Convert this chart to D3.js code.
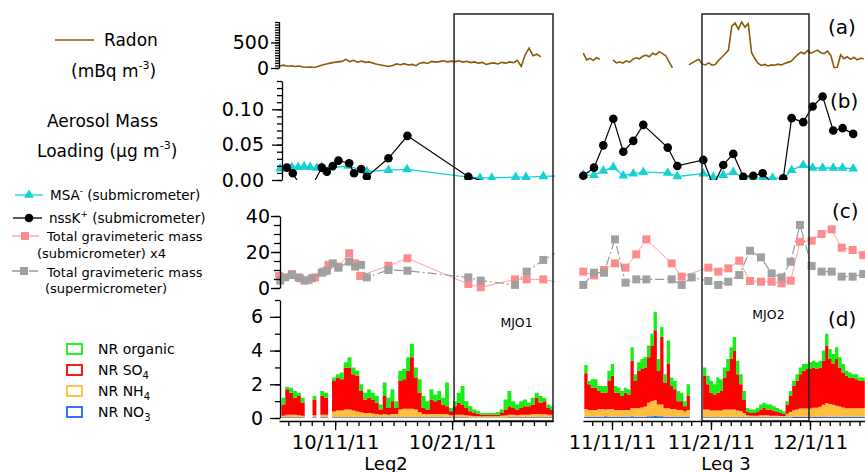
<!DOCTYPE html>
<html>
<head>
<meta charset="utf-8">
<script src="https://cdn.jsdelivr.net/npm/d3@7"></script>
<style>
  body { margin: 0; background: #fff; }
  svg { font-family: "DejaVu Sans", sans-serif; }
</style>
</head>
<body>
<div id="chart"></div>
<script>
// ---------------- data ----------------
// x values are day of month; Leg 3 keeps counting past 30 Nov (31 = 1 Dec)
var leg2Ticks = ['10/11/11', '10/21/11'];
var leg3Ticks = ['11/11/11', '11/21/11', '12/1/11'];
var leg2Span = [6.2, 29.63];
var leg3Span = [8.07, 36.56];
var mjoNames = ['MJO1', 'MJO2'];
var mjoLeg2 = [21.17, 29.63];
var mjoLeg3 = [20.09, 30.9];

var radonTicks = [0, 500];
var aerosolTicks = [0, 0.05, 0.10];
var massTicks = [0, 20, 40];
var amsTicks = [0, 2, 4, 6];

// radon (mBq m-3), one reading every 8 h
var radonStep = 1 / 3;
var radonStart2 = 6.25, radonStart3 = 8.1;
var radon2 = [40, 55, 35, 45, 30, 40, 20, 15, 20, 10, 35, 60,
  80, 95, 110, 120, 130, 170, 125, 150, 115, 135, 110, 120,
  95, 75, 60, 45, 30, 50, 80, 65, 85, 60, 70, 45,
  95, 110, 90, 130, 115, 125, 140, 120, 135, 125, 140, 115,
  130, 105, 120, 95, 110, 70, 90, 100, 80, 110, 95, 120,
  105, 150, 30, 260, 390, 240, 270, 220];
var radon3 = [290, 160, 190, 150, 200, 170,
  null, null, null, 160, 100, 120,
  95, 140, 115, 170, 200, 180,
  230, 250, 220, 290, 260, 320,
  280, 240, 120, 5, null, null,
  null, null, 60, 100, 140, 170,
  80, 60, 100, 55, 70, 150,
  210, 280, 350, 820, 880, 760,
  900, 800, 870, 300, 180, 90,
  50, 70, 40, 60, 55, 75,
  60, 90, 110, 130, 200, 260,
  310, 280, 340, 290, 320, 350,
  300, 280, 330, 250, 10, 15,
  260, 180, 220, 170, 210, 160,
  190, 180];

// filter samples [day, value]
var msa2 = [[6.30, .016], [7.30, .018], [7.84, .018], [8.35, .019], [8.86, .018], [9.44, .017],
  [9.86, .018], [10.57, .017], [12.11, .020], [13.71, .012], [15.56, .014], [17.15, .015],
  [22.39, .004], [23.39, .003], [24.39, .003], [26.44, .004], [27.32, .004], [28.80, .005], [30.3, .006]];
var nssk2 = [[6.87, .0175], [7.38, .0095], [8.55, -.023], [9.86, .0175], [10.29, .0118], [10.80, .0199],
  [11.28, .0274], [12.20, .0237], [12.62, .0095], [13.22, .0156], [13.71, .0047], [15.56, .0307],
  [17.18, .0624], [22.39, .0047], [25.4, -.01]];
var msa3 = [[8.10, .007], [9.18, .007], [10.12, .013], [11.13, .018], [12.14, .006], [13.15, .009],
  [14.16, .011], [16.63, .010], [17.60, .005], [20.22, .009], [21.23, .004], [22.24, .007],
  [23.25, .011], [24.26, .003], [25.27, .003], [26.22, .003], [27.23, .003], [28.30, .002],
  [29.15, .014], [30.32, .021], [31.27, .017], [32.28, .017], [33.35, .017], [34.30, .017], [35.37, .016]];
var nssk3 = [[8.10, .0061], [9.18, .0175], [10.12, .049], [11.13, .0865], [12.14, .040], [13.15, .0553],
  [14.16, .078], [16.63, .0458], [17.60, .0199], [20.22, .0284], [21.23, -.008], [22.24, .0213],
  [23.25, .0369], [24.26, .0047], [25.27, .0061], [26.22, .0095], [27.23, -.006], [28.30, .0024],
  [29.15, .0875], [30.32, .0818], [31.27, .104], [32.28, .118], [33.35, .070], [34.30, .0733], [35.37, .0652]];

// total gravimetric mass: submicrometer (x4) and supermicrometer
var subMass2 = [[6.21, 6.7], [7.30, 7.8], [8.01, 5.4], [8.72, 4.4], [9.29, 5.9], [10.0, 9.1], [10.43, 12.8],
  [11.28, 11.9], [12.20, 19.3], [12.71, 13.7], [13.14, 6.7], [15.56, 12.4], [17.18, 16.5], [22.39, 2.2],
  [23.45, 0.4], [26.38, 4.8], [27.38, 4.8], [28.80, 4.8], [30.3, 2.8]];
var superMass2 = [[6.30, 4.1], [6.73, 5.9], [7.30, 7.2], [7.86, 5.9], [8.38, 4.1], [9.01, 5.4], [9.86, 8.5],
  [10.29, 9.6], [10.80, 13.7], [11.28, 11.3], [12.20, 14.6], [12.71, 11.9], [13.22, 12.8], [13.71, 5.9],
  [15.56, 10.0], [17.18, 9.6], [22.39, 5.9], [23.45, 4.1], [26.38, 1.7], [27.38, 9.1], [28.80, 15.6], [30.3, 21.0]];
var subMass3 = [[8.10, 9.1], [9.18, 7.0], [10.19, 10.0], [11.30, 13.7], [12.36, 11.3], [13.45, 18.7],
  [14.47, 27.0], [17.03, 13.7], [18.04, 6.3], [20.73, 11.3], [21.74, 9.1], [22.75, 10.9], [23.86, 15.2],
  [24.94, 3.9], [26.05, 3.5], [27.13, 3.5], [28.14, 2.6], [29.05, 4.1], [29.99, 25.7], [31.17, 26.3],
  [32.18, 30.0], [33.19, 32.6], [34.20, 22.4], [35.31, 21.1], [36.38, 18.3]];
var superMass3 = [[8.10, 1.7], [9.18, 8.5], [10.19, 8.5], [11.30, 27.0], [12.36, 3.0], [13.45, 4.8],
  [14.47, 4.8], [17.03, 4.8], [18.04, 1.7], [19.05, 5.9], [20.73, 3.9], [21.74, 1.7], [22.75, 3.5],
  [23.86, 7.2], [24.94, 20.7], [26.05, 17.0], [27.13, 8.1], [28.14, 5.9], [29.05, 14.6], [29.99, 35.0],
  [31.17, 12.2], [32.18, 9.1], [33.19, 9.1], [34.20, 6.3], [35.31, 6.3], [36.38, 7.8]];

// NR aerosol components (ug m-3), 8 h averages
var amsStep = 1 / 3;
var amsStart2 = 6.4, amsStart3 = 8.2;
var org2 = [.40, .15, .30, .40, .20, .30, null, null, .20, null,
  .30, .30, null, .20, .20, .40, .30, .60, .40, .30,
  .40, .40, .50, .40, .40, .30, .80, .60, .70, .40,
  .60, .60, .80, .80, .60, .80, .70, .50, .60, .40,
  .50, .40, 1.40, .20, .30, .60, 1.10, .40, .30, .20,
  .15, .10, .10, .10, .10, .15, .20, .60, .90, .40,
  .30, .40, .40, .20, .40, .30, .40, .20, .20, .20];
var so4_2 = [.66, 1.51, 1.31, 1.01, 1.14, .76, null, null, .94, null,
  1.11, 1.01, null, 1.81, 1.96, 1.86, 2.50, 2.50, 2.15, 2.11,
  1.26, .81, .91, .84, .66, .31, 1.06, .41, .76, .36,
  1.70, 1.75, 2.25, 3.05, 1.90, 1.16, .36, .28, .86, .76,
  .86, .58, .48, .24, .51, .71, .61, .44, .27, .19,
  .14, .10, .10, .10, .10, .10, .17, .35, .51, .41,
  .34, .41, .51, .51, .58, .96, .68, .78, .41, .31];
var nh4_2 = [.10, .15, .15, .15, .12, .10, null, null, .12, null,
  .15, .15, null, .35, .40, .40, .45, .45, .40, .35,
  .30, .25, .25, .22, .20, .15, .20, .15, .20, .20,
  .45, .50, .50, .50, .45, .30, .20, .18, .20, .20,
  .20, .18, .18, .12, .15, .15, .15, .12, .10, .08,
  .08, .07, .07, .07, .07, .07, .10, .12, .15, .15,
  .12, .15, .15, .15, .18, .20, .18, .18, .15, .15];
var no3_2 = [.04, .04, .04, .04, .04, .04, null, null, .04, null,
  .04, .04, null, .04, .04, .04, .05, .05, .05, .04,
  .04, .04, .04, .04, .04, .04, .04, .04, .04, .04,
  .05, .05, .05, .05, .05, .04, .04, .04, .04, .04,
  .04, .04, .04, .04, .04, .04, .04, .04, .03, .03,
  .03, .03, .03, .03, .03, .03, .03, .03, .04, .04,
  .04, .04, .04, .04, .04, .04, .04, .04, .04, .04];
var org3 = [.50, .20, .50, .50, .30, .40, .40, .60, .70, .40,
  .30, .30, .30, .30, .80, .40, .50, .60, .60, .70,
  .70, 1.10, .70, .60, .50, 1.40, .50, .50, .60, .50,
  .30, .70, null, null, null, null, .50, .50, .70, .60,
  .90, .70, .60, .70, .70, .80, .80, .60, .50, .25,
  .20, .20, .25, .30, .30, .30, .30, .25, .25, .20,
  .15, .20, .30, .30, .40, .40, .40, .30, .40, .40,
  .40, .40, .60, .70, .60, .60, .70, .60, .50, .30,
  .30, .20, .30, .20, .20];
var so4_3 = [2.12, 1.52, 1.32, 1.32, 1.07, .97, 1.00, 1.67, 1.97, 1.02,
  1.02, .82, 1.02, .92, 2.80, 1.62, 2.22, 2.27, 2.32, 2.70,
  3.30, 4.15, 2.00, 4.00, 1.52, 2.62, 1.37, 1.17, .52, .52,
  .32, .82, null, null, null, null, 2.00, 1.50, 1.05, .95,
  1.05, 1.15, 1.90, 2.30, 3.00, 3.50, 2.15, 1.60, .80, .19,
  .16, .16, .21, .34, .44, .34, .36, .31, .21, .18,
  .13, .55, .95, 1.44, 1.69, 2.04, 2.24, 2.34, 2.34, 2.39,
  2.29, 2.34, 2.62, 3.42, 2.67, 2.42, 2.77, 2.32, 2.07, 1.92,
  1.82, 1.82, 1.72, 1.62, 1.62];
var nh4_3 = [.45, .40, .40, .40, .45, .45, .40, .45, .45, .40,
  .40, .40, .40, .40, .50, .50, .50, .55, .60, .80,
  .90, .90, .70, .70, .50, .50, .45, .45, .40, .40,
  .30, .40, null, null, null, null, .45, .45, .40, .40,
  .40, .40, .45, .45, .45, .45, .40, .35, .25, .12,
  .10, .10, .10, .12, .12, .12, .10, .10, .10, .08,
  .08, .20, .30, .40, .45, .50, .50, .50, .50, .55,
  .55, .60, .70, .80, .75, .70, .65, .60, .55, .50,
  .50, .50, .50, .50, .50];
var no3_3 = [.08, .08, .08, .08, .08, .08, .10, .08, .08, .08,
  .08, .08, .08, .08, .10, .08, .08, .08, .08, .10,
  .10, .15, .10, .10, .08, .08, .08, .08, .08, .08,
  .08, .08, null, null, null, null, .05, .05, .05, .05,
  .05, .05, .05, .05, .05, .05, .05, .05, .05, .04,
  .04, .04, .04, .04, .04, .04, .04, .04, .04, .04,
  .04, .05, .05, .06, .06, .06, .06, .06, .06, .06,
  .06, .06, .08, .08, .08, .08, .08, .08, .08, .08,
  .08, .08, .08, .08, .08];

// ---------------- chart ----------------
var W = 865, H = 472;
var svg = d3.select('#chart').append('svg').attr('width', W).attr('height', H);

var colors = { radon: '#8c5a08', msa: '#14d2d2', nssk: '#000', sub: '#ff8c8c', sup: '#a0a0a0',
  org: '#14f014', so4: '#ff0000', nh4: '#ffbe3c', no3: '#1e64ff' };

function octDay(d) { return new Date(Date.UTC(2011, 9, 1) + (d - 1) * 864e5); }
function novDay(d) { return new Date(Date.UTC(2011, 10, 1) + (d - 1) * 864e5); }
var parseTick = d3.utcParse('%m/%d/%y');
var fmtTick = d3.utcFormat('%-m/%-d/%y');

// y scales (one per panel)
var yA = d3.scaleLinear().domain([0, 910]).range([68, 21.5]);
var yB = d3.scaleLinear().domain([0, 0.14]).range([180, 81]);
var yC = d3.scaleLinear().domain([0, 40]).range([288, 216]);
var yD = d3.scaleLinear().domain([0, 7]).range([418, 300]);

var legs = [
  { id: 'l2', toDate: octDay, span: leg2Span, range: [279, 553], clip: [270, 555], ticks: leg2Ticks,
    name: 'Leg2', nameX: 386, radonStart: radonStart2, radon: radon2, msa: msa2, nssk: nssk2,
    sub: subMass2, sup: superMass2, amsStart: amsStart2, org: org2, so4: so4_2, nh4: nh4_2, no3: no3_2,
    mjo: mjoLeg2, mjoName: mjoNames[0], mjoY: 327 },
  { id: 'l3', toDate: novDay, span: leg3Span, range: [583, 865], clip: [576, 865], ticks: leg3Ticks,
    name: 'Leg 3', nameX: 726, radonStart: radonStart3, radon: radon3, msa: msa3, nssk: nssk3,
    sub: subMass3, sup: superMass3, amsStart: amsStart3, org: org3, so4: so4_3, nh4: nh4_3, no3: no3_3,
    mjo: mjoLeg3, mjoName: mjoNames[1], mjoY: 319 }
];

var defs = svg.append('defs');
function addClip(id, x0, x1, y0, y1) {
  defs.append('clipPath').attr('id', id).append('rect')
    .attr('x', x0).attr('y', y0).attr('width', x1 - x0).attr('height', y1 - y0);
  return 'url(#' + id + ')';
}

function drawMarkers(g, x, y, toDate, pts, color, lineColor, lw, dash, symbol, size) {
  var line = d3.line().x(d => x(toDate(d[0]))).y(d => y(d[1]));
  g.append('path').datum(pts).attr('d', line)
    .attr('fill', 'none').attr('stroke', lineColor).attr('stroke-width', lw)
    .attr('stroke-dasharray', dash);
  g.selectAll(null).data(pts).enter().append('path')
    .attr('transform', d => 'translate(' + x(toDate(d[0])) + ',' + y(d[1]) + ')')
    .attr('d', d3.symbol(symbol, size))
    .attr('fill', color);
}

legs.forEach(function (leg) {
  var x = d3.scaleUtc().domain(leg.span.map(leg.toDate)).range(leg.range);
  var T = leg.toDate;

  // (d) stacked NR components
  var keys = ['no3', 'nh4', 'so4', 'org'];
  var rows = leg.org.map((v, i) => ({ day: leg.amsStart + i * amsStep,
    no3: leg.no3[i], nh4: leg.nh4[i], so4: leg.so4[i], org: v }));
  var stacked = d3.stack().keys(keys).value((d, k) => d[k] || 0)(rows);
  var gD = svg.append('g').attr('clip-path', addClip('d' + leg.id, leg.range[0], leg.range[1], 290, 418));
  var area = d3.area().defined(p => p)
    .x(p => x(T(p.day))).y0(p => yD(p.y0)).y1(p => yD(p.y1));
  stacked.forEach(function (layer) {
    var pts = [];
    layer.forEach(function (s, i) {
      if (rows[i].org == null) { pts.push(null); return; }
      pts.push({ day: rows[i].day, y0: s[0], y1: s[1] },
               { day: rows[i].day + amsStep, y0: s[0], y1: s[1] });
    });
    gD.append('path').attr('d', area(pts)).attr('fill', colors[layer.key]);
  });

  // (a) radon
  var radonLine = d3.line().defined(d => d.v != null)
    .x(d => x(T(d.day))).y(d => yA(d.v));
  svg.append('path')
    .datum(leg.radon.map((v, i) => ({ day: leg.radonStart + i * radonStep, v: v })))
    .attr('d', radonLine).attr('fill', 'none')
    .attr('stroke', colors.radon).attr('stroke-width', 1.6);

  // (b) MSA and nssK
  var gB = svg.append('g').attr('clip-path', addClip('b' + leg.id, leg.clip[0], leg.clip[1], 75, 180));
  drawMarkers(gB, x, yB, T, leg.msa, colors.msa, colors.msa, 1.3, null, d3.symbolTriangle, 42);
  drawMarkers(gB, x, yB, T, leg.nssk, colors.nssk, colors.nssk, 1.2, null, d3.symbolCircle, 58);

  // (c) gravimetric mass
  var gC = svg.append('g').attr('clip-path', addClip('c' + leg.id, leg.clip[0], leg.clip[1], 205, 296));
  drawMarkers(gC, x, yC, T, leg.sub, colors.sub, '#ffa0a0', 1, null, d3.symbolSquare, 64);
  drawMarkers(gC, x, yC, T, leg.sup, colors.sup, '#9a9a9a', 1.2, '9,3,2,3', d3.symbolSquare, 64);

  // MJO box
  var bx0 = x(T(leg.mjo[0])), bx1 = x(T(leg.mjo[1]));
  svg.append('rect').attr('x', bx0).attr('y', 14).attr('width', bx1 - bx0).attr('height', 421 - 14)
    .attr('fill', 'none').attr('stroke', '#222').attr('stroke-width', 1.5);
  svg.append('text').attr('x', (bx0 + bx1) / 2 + 13).attr('y', leg.mjoY)
    .attr('text-anchor', 'middle').attr('font-size', 12.5).text(leg.mjoName);

  // x axis
  var gx = svg.append('g').attr('transform', 'translate(0,421)');
  gx.call(d3.axisBottom(x).ticks(d3.utcDay.every(1)).tickSize(5).tickFormat('').tickSizeOuter(0));
  var gxm = gx.append('g').call(d3.axisBottom(x).tickValues(leg.ticks.map(parseTick))
    .tickSize(9).tickPadding(5).tickFormat(fmtTick));
  gxm.select('.domain').remove();
  gx.selectAll('line, path').attr('stroke-width', 1.3);
  gx.selectAll('text').attr('font-size', 19.5).attr('font-family', '"DejaVu Sans", sans-serif');

  svg.append('text').attr('x', leg.nameX).attr('y', 469.5).attr('text-anchor', 'middle')
    .attr('font-size', 18).text(leg.name);
});

// y axes on the left of Leg2
function yAxis(scale, ax, majors, fmt, minors, majLen, minLen, pad) {
  var g = svg.append('g').attr('transform', 'translate(' + ax + ',0)');
  g.call(d3.axisLeft(scale).tickValues(minors).tickSize(minLen).tickFormat('').tickSizeOuter(0));
  var gm = g.append('g').call(d3.axisLeft(scale).tickValues(majors).tickSize(majLen)
    .tickPadding(pad).tickFormat(fmt));
  gm.select('.domain').remove();
  g.selectAll('line, path').attr('stroke-width', 1.3);
  g.selectAll('text').attr('font-size', 19).attr('font-family', '"DejaVu Sans", sans-serif');
}
yAxis(yA, 279, radonTicks, d3.format('d'), d3.range(0, 901, 50), 8, 4, 2);
yAxis(yB, 282, aerosolTicks, d3.format('.2f'), d3.range(0, 0.1401, 0.01), 10, 5, 8);
yAxis(yC, 280, massTicks, d3.format('d'), d3.range(0, 41, 5), 9, 6, 1);
yAxis(yD, 280, amsTicks, d3.format('d'), d3.range(0, 8, 1), 10, 5, 7);

// panel letters
[['(a)', 828, 34], ['(b)', 830, 108], ['(c)', 832, 218], ['(d)', 828, 326]].forEach(function (p) {
  svg.append('text').attr('x', p[1]).attr('y', p[2]).attr('font-size', 20).text(p[0]);
});

// ---------------- left-hand legend ----------------
var lg = svg.append('g');
lg.append('line').attr('x1', 55).attr('x2', 94).attr('y1', 40).attr('y2', 40)
  .attr('stroke', colors.radon).attr('stroke-width', 1.5);
lg.append('text').attr('x', 104).attr('y', 46).attr('font-size', 17).text('Radon');
var t1 = lg.append('text').attr('x', 71).attr('y', 77).attr('font-size', 17);
t1.append('tspan').text('(mBq m');
t1.append('tspan').attr('font-size', 11).attr('dy', -8).text('-3');
t1.append('tspan').attr('dy', 8).text(')');

lg.append('text').attr('x', 47).attr('y', 127).attr('font-size', 17).text('Aerosol Mass');
var t2 = lg.append('text').attr('x', 37).attr('y', 157).attr('font-size', 17);
t2.append('tspan').text('Loading (\u03bcg m');
t2.append('tspan').attr('font-size', 11).attr('dy', -8).text('-3');
t2.append('tspan').attr('dy', 8).text(')');

function legendItem(y, x1, x2, mx, color, lineColor, dash, symbol, size) {
  lg.append('line').attr('x1', x1).attr('x2', x2).attr('y1', y).attr('y2', y)
    .attr('stroke', lineColor).attr('stroke-width', 1.3).attr('stroke-dasharray', dash);
  lg.append('path').attr('transform', 'translate(' + mx + ',' + y + ')')
    .attr('d', d3.symbol(symbol, size)).attr('fill', color);
}
legendItem(195, 15, 43, 29, colors.msa, colors.msa, null, d3.symbolTriangle, 42);
var t3 = lg.append('text').attr('x', 50).attr('y', 200).attr('font-size', 13.5);
t3.append('tspan').text('MSA');
t3.append('tspan').attr('font-size', 9).attr('dy', -6).text('-');
t3.append('tspan').attr('dy', 6).text(' (submicrometer)');

legendItem(218, 13, 42, 29, colors.nssk, colors.nssk, null, d3.symbolCircle, 58);
var t4 = lg.append('text').attr('x', 49).attr('y', 223).attr('font-size', 13.5);
t4.append('tspan').text('nssK');
t4.append('tspan').attr('font-size', 9).attr('dy', -6).text('+');
t4.append('tspan').attr('dy', 6).text(' (submicrometer)');

legendItem(236, 12, 39, 25, colors.sub, '#ffa0a0', null, d3.symbolSquare, 64);
lg.append('text').attr('x', 47).attr('y', 241).attr('font-size', 13).text('Total gravimeteric mass');
lg.append('text').attr('x', 37).attr('y', 258).attr('font-size', 13).text('(submicrometer) x4');
legendItem(271, 12, 39, 24, colors.sup, '#9a9a9a', '9,3,2,3', d3.symbolSquare, 64);
lg.append('text').attr('x', 47).attr('y', 277).attr('font-size', 13).text('Total gravimeteric mass');
lg.append('text').attr('x', 45).attr('y', 293).attr('font-size', 13).text('(supermicrometer)');

var nrItems = [['NR organic', '', colors.org], ['NR SO', '4', colors.so4],
  ['NR NH', '4', colors.nh4], ['NR NO', '3', colors.no3]];
nrItems.forEach(function (it, i) {
  var y = 344 + i * 21;
  lg.append('rect').attr('x', 67).attr('y', y).attr('width', 15).attr('height', 10)
    .attr('fill', '#fff').attr('stroke', it[2]).attr('stroke-width', 1.8);
  var t = lg.append('text').attr('x', 98).attr('y', y + 10).attr('font-size', 14);
  t.append('tspan').text(it[0]);
  if (it[1]) t.append('tspan').attr('font-size', 10).attr('dy', 4).text(it[1]);
});
</script>
</body>
</html>
